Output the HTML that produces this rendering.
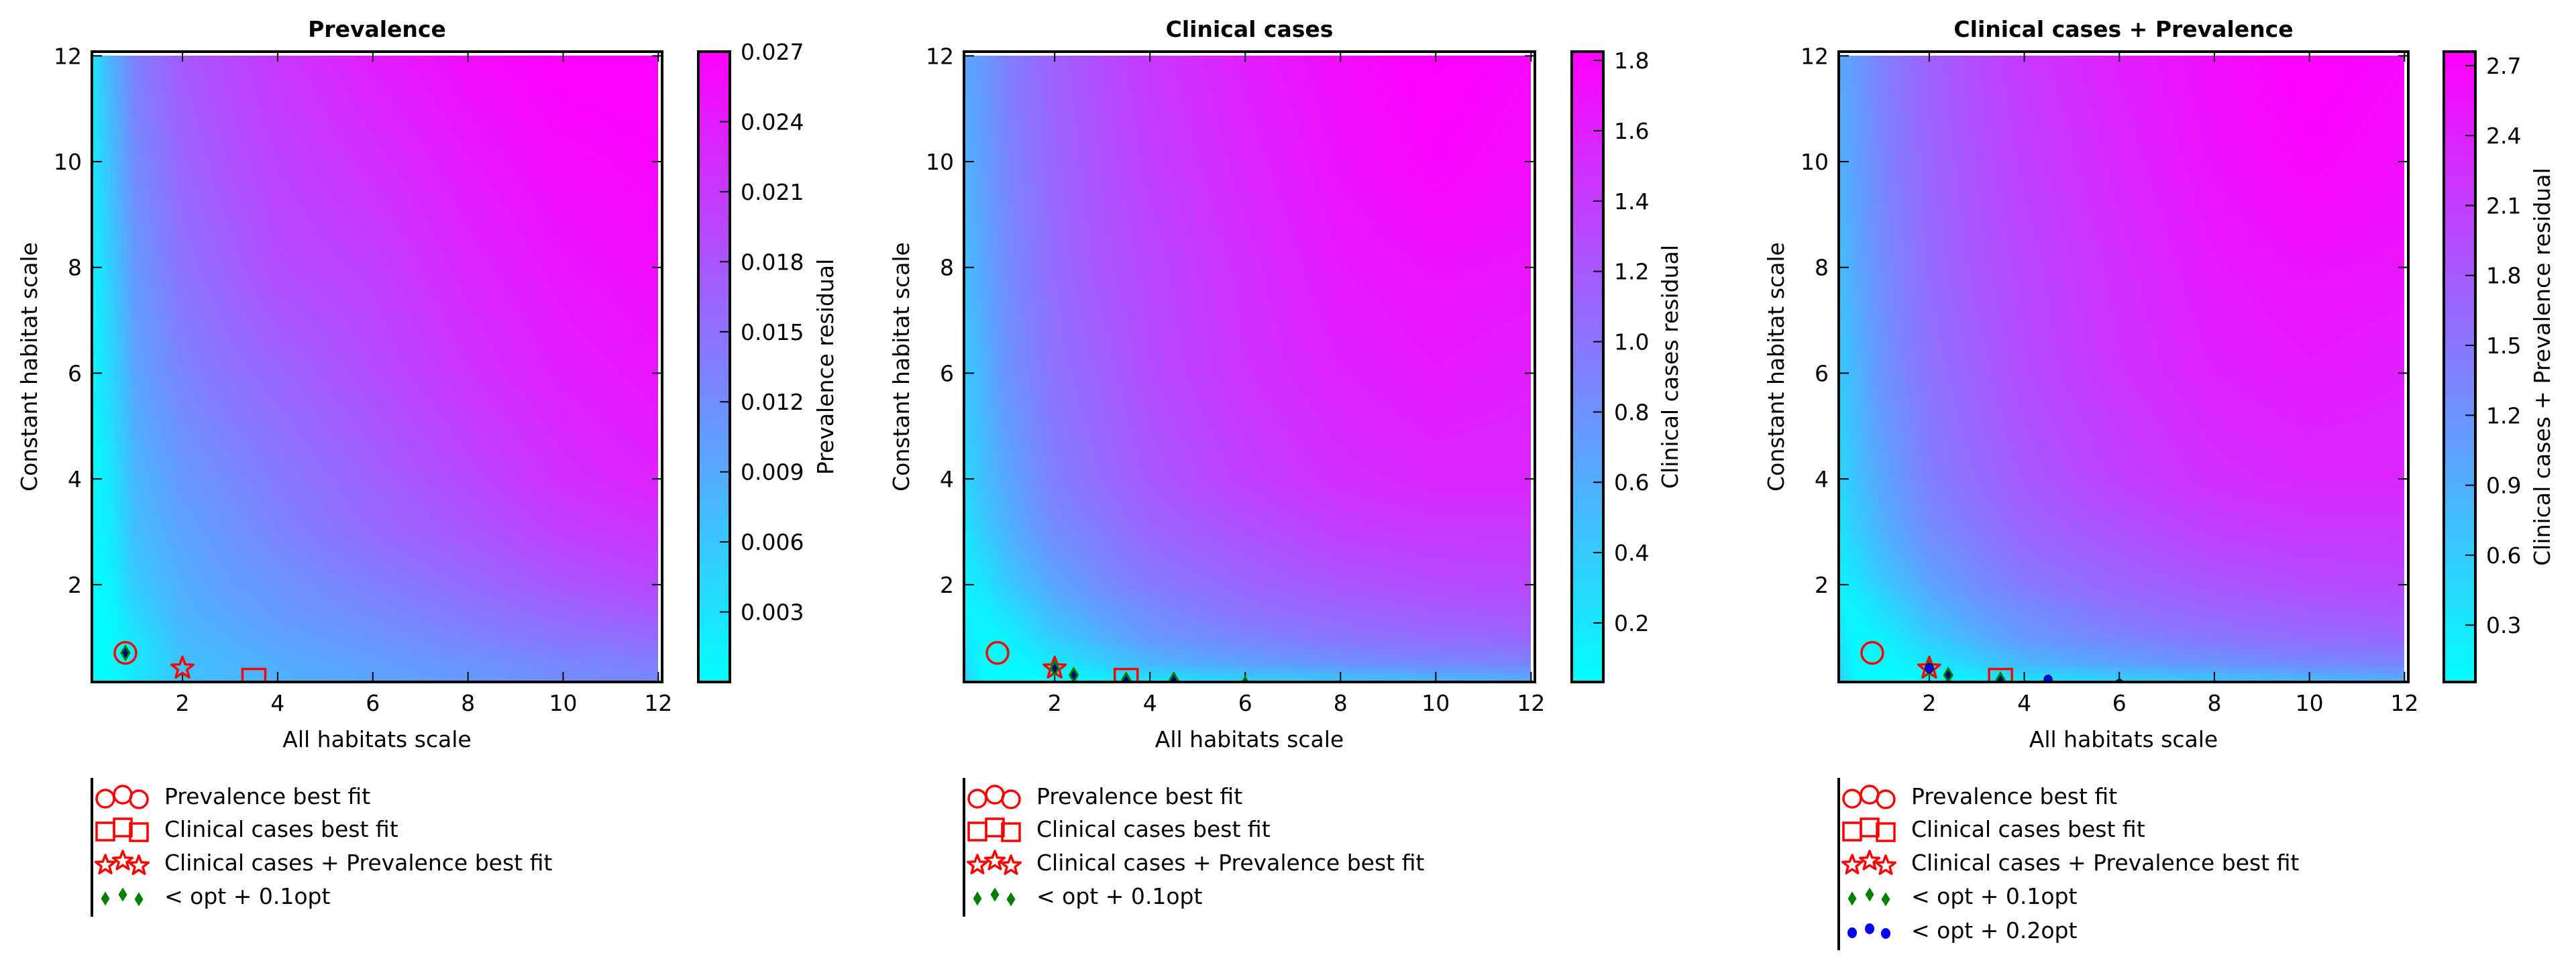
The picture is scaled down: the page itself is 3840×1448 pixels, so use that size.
<!DOCTYPE html>
<html><head><meta charset="utf-8">
<style>
html,body{margin:0;padding:0;background:#fff;}
#root{position:relative;width:3840px;height:1448px;overflow:hidden;font-family:"DejaVu Sans","Liberation Sans",sans-serif;}
canvas{position:absolute;}
svg{position:absolute;left:0;top:0;}
</style></head>
<body>
<div id="root">
<canvas id="c0"></canvas>
<canvas id="c1"></canvas>
<canvas id="c2"></canvas>
<svg id="svg" width="3840" height="1448" xmlns="http://www.w3.org/2000/svg"></svg>
</div>
<script>
// ---- data ----
const xGrid = [0.1, 0.5, 1, 2, 3, 4, 6, 8, 10, 12];
const yGrid = [0.15, 0.5, 1, 1.5, 2, 3, 4, 6, 8, 10, 12];
// rows follow yGrid (bottom -> top), columns follow xGrid
const prevValues = [
  [0.0000,0.0005,0.0027,0.0065,0.0076,0.0081,0.0095,0.0108,0.0119,0.0127],
  [0.0000,0.0003,0.0022,0.0065,0.0076,0.0086,0.0100,0.0113,0.0127,0.0135],
  [0.0000,0.0005,0.0027,0.0073,0.0086,0.0097,0.0113,0.0130,0.0146,0.0157],
  [0.0000,0.0008,0.0041,0.0081,0.0095,0.0108,0.0124,0.0143,0.0162,0.0178],
  [0.0000,0.0014,0.0054,0.0086,0.0103,0.0113,0.0135,0.0157,0.0178,0.0194],
  [0.0005,0.0022,0.0068,0.0097,0.0113,0.0130,0.0157,0.0178,0.0203,0.0216],
  [0.0005,0.0027,0.0076,0.0108,0.0124,0.0140,0.0167,0.0194,0.0221,0.0235],
  [0.0008,0.0041,0.0095,0.0130,0.0149,0.0162,0.0189,0.0216,0.0238,0.0248],
  [0.0014,0.0054,0.0108,0.0149,0.0167,0.0189,0.0203,0.0230,0.0248,0.0257],
  [0.0022,0.0068,0.0122,0.0162,0.0184,0.0200,0.0221,0.0243,0.0259,0.0265],
  [0.0027,0.0081,0.0135,0.0176,0.0194,0.0211,0.0238,0.0257,0.0270,0.0270]
];
const clinValues = [
  [0.39,0.07,0.03,0.03,0.09,0.18,0.30,0.39,0.48,0.57],
  [0.30,0.03,0.07,0.18,0.35,0.53,0.68,0.79,0.86,0.89],
  [0.21,0.07,0.12,0.39,0.57,0.75,0.89,1.00,1.07,1.11],
  [0.12,0.12,0.25,0.53,0.71,0.84,1.02,1.11,1.18,1.22],
  [0.12,0.21,0.39,0.66,0.84,0.96,1.11,1.22,1.29,1.32],
  [0.21,0.39,0.57,0.84,0.96,1.11,1.25,1.38,1.43,1.43],
  [0.30,0.48,0.66,0.93,1.07,1.20,1.38,1.50,1.56,1.56],
  [0.39,0.57,0.79,1.02,1.14,1.29,1.47,1.59,1.65,1.61],
  [0.48,0.66,0.84,1.07,1.22,1.32,1.50,1.65,1.70,1.68],
  [0.57,0.71,0.89,1.11,1.25,1.38,1.56,1.70,1.79,1.74],
  [0.66,0.75,0.93,1.14,1.29,1.43,1.61,1.74,1.83,1.77]
];
const combValues = [
  [0.60,0.11,0.06,0.06,0.14,0.27,0.46,0.60,0.73,0.87],
  [0.46,0.06,0.11,0.27,0.54,0.81,1.03,1.19,1.30,1.35],
  [0.33,0.11,0.19,0.60,0.87,1.14,1.35,1.51,1.62,1.68],
  [0.19,0.19,0.38,0.81,1.08,1.27,1.54,1.68,1.78,1.84],
  [0.19,0.33,0.60,1.00,1.27,1.46,1.68,1.84,1.95,2.00],
  [0.33,0.60,0.87,1.27,1.46,1.68,1.89,2.08,2.16,2.16],
  [0.46,0.73,1.00,1.41,1.62,1.81,2.08,2.27,2.35,2.35],
  [0.60,0.87,1.19,1.54,1.73,1.95,2.22,2.41,2.49,2.43],
  [0.73,1.00,1.27,1.62,1.84,2.00,2.27,2.49,2.57,2.54],
  [0.87,1.08,1.35,1.68,1.89,2.08,2.35,2.57,2.70,2.62],
  [1.00,1.14,1.41,1.73,1.95,2.16,2.43,2.62,2.76,2.68]
];
const prevTicks = [0.003,0.006,0.009,0.012,0.015,0.018,0.021,0.024,0.027];
const clinTicks = [0.2,0.4,0.6,0.8,1.0,1.2,1.4,1.6,1.8];
const combTicks = [0.3,0.6,0.9,1.2,1.5,1.8,2.1,2.4,2.7];
const prevRange = [0, 0.027];
const clinRange = [0.032, 1.825];
const combRange = [0.056, 2.76];
const xTicks = [2,4,6,8,10,12];
const yTicks = [2,4,6,8,10,12];
const prevalenceFit = [0.8, 0.71];
const clinicalFit = [3.5, 0.19];
const combinedFit = [2.0, 0.42];
const within10Prev = [[0.8,0.71]];
const within10Clin = [[2.0,0.42],[2.4,0.29],[3.5,0.2],[4.5,0.2],[6.0,0.12]];
const within10Comb = [[2.0,0.42],[2.4,0.29],[3.5,0.2]];
const within20Comb = [[2.0,0.42],[4.5,0.2],[6.0,0.12]];

// ---- layout ----
const NS = 'http://www.w3.org/2000/svg';
const svg = document.getElementById('svg');
const FS = 33;
const PT = 77, PB = 1017;
const XMIN = 0.096, XMAX = 12.08, YMIN = 0.16, YMAX = 12.08;
const panels = [
  {L:137, R:987, CB:1041, title:'Prevalence', cbLabel:'Prevalence residual', cbLabelX:1242, vals:prevValues, range:prevRange, ticks:prevTicks, dec:3, w10:within10Prev, w20:[], legendN:4, name:'prevalence'},
  {L:1437, R:2288, CB:2343, title:'Clinical cases', cbLabel:'Clinical cases residual', cbLabelX:2501, vals:clinValues, range:clinRange, ticks:clinTicks, dec:1, w10:within10Clin, w20:[], legendN:4, name:'clinical'},
  {L:2741, R:3590, CB:3643, title:'Clinical cases + Prevalence', cbLabel:'Clinical cases + Prevalence residual', cbLabelX:3801, vals:combValues, range:combRange, ticks:combTicks, dec:1, w10:within10Comb, w20:within20Comb, legendN:5, name:'combined'}
];
const CBW = 47;

function el(tag, attrs, parent){
  const e = document.createElementNS(NS, tag);
  for (const k in attrs) e.setAttribute(k, attrs[k]);
  (parent||svg).appendChild(e);
  return e;
}
function txt(s, attrs, parent){ const t = el('text', attrs, parent); t.textContent = s; return t; }

function interp(vals, x, y){
  let i = 0; while (i < xGrid.length-2 && x > xGrid[i+1]) i++;
  let j = 0; while (j < yGrid.length-2 && y > yGrid[j+1]) j++;
  let tx = (x - xGrid[i])/(xGrid[i+1]-xGrid[i]); tx = Math.max(0,Math.min(1,tx));
  let ty = (y - yGrid[j])/(yGrid[j+1]-yGrid[j]); ty = Math.max(0,Math.min(1,ty));
  const a = vals[j][i], b = vals[j][i+1], c = vals[j+1][i], d = vals[j+1][i+1];
  return (a*(1-tx)+b*tx)*(1-ty) + (c*(1-tx)+d*tx)*ty;
}

function starPath(cx, cy, R){
  const r = R*0.42; let d='';
  for (let k=0;k<10;k++){
    const ang = -Math.PI/2 + k*Math.PI/5;
    const rr = k%2===0 ? R : r;
    d += (k===0?'M':'L') + (cx+rr*Math.cos(ang)).toFixed(1) + ',' + (cy+rr*Math.sin(ang)).toFixed(1);
  }
  return d+'Z';
}
function diamondPath(cx, cy, w, h){
  return `M${cx},${cy-h/2}L${cx+w/2},${cy}L${cx},${cy+h/2}L${cx-w/2},${cy}Z`;
}

panels.forEach((p, idx) => {
  const sx = v => p.L + (v - XMIN)/(XMAX - XMIN)*(p.R - p.L);
  const sy = v => PB - (v - YMIN)/(YMAX - YMIN)*(PB - PT);
  const [vmin, vmax] = p.range;
  const cb = v => PB - (v - vmin)/(vmax - vmin)*(PB - PT);

  const cv = document.getElementById('c'+idx);
  const hx0 = Math.round(sx(0.1)), hx1 = Math.round(sx(12.0));
  const hy0 = Math.round(sy(12.0)), hy1 = PB;
  const W = hx1 - hx0, H = hy1 - hy0;
  cv.width = W; cv.height = H;
  cv.style.left = hx0+'px'; cv.style.top = hy0+'px';
  const ctx = cv.getContext('2d');
  const img = ctx.createImageData(W, H);
  for (let py=0; py<H; py++){
    const yv = YMIN + (PB - (hy0+py+0.5))/(PB-PT)*(YMAX-YMIN);
    for (let px=0; px<W; px++){
      const xv = XMIN + (hx0+px+0.5 - p.L)/(p.R-p.L)*(XMAX-XMIN);
      let t = (interp(p.vals, xv, yv) - vmin)/(vmax - vmin);
      t = Math.max(0, Math.min(1, t));
      const o = (py*W+px)*4;
      img.data[o] = Math.round(255*t); img.data[o+1] = Math.round(255*(1-t)); img.data[o+2] = 255; img.data[o+3] = 255;
    }
  }
  ctx.putImageData(img, 0, 0);

  const g = el('g', {});
  
  

  const cp = el('clipPath', {id:'clip'+idx}, g);
  el('rect', {x:p.L, y:PT, width:p.R-p.L, height:PB-PT}, cp);

  const t = txt(p.title, {x:(p.L+p.R)/2, y:55, 'text-anchor':'middle', 'font-size':FS, 'font-weight':'bold'}, g);
  
  

  xTicks.forEach(v => {
    const x = sx(v);
    el('line', {x1:x, y1:PB, x2:x, y2:PB-15, stroke:'#000', 'stroke-width':2}, g);
    el('line', {x1:x, y1:PT, x2:x, y2:PT+15, stroke:'#000', 'stroke-width':2}, g);
    const l = txt(String(v), {x:x, y:1060, 'text-anchor':'middle', 'font-size':FS}, g);
    
    
  });
  yTicks.forEach(v => {
    const y = sy(v);
    el('line', {x1:p.L, y1:y, x2:p.L+15, y2:y, stroke:'#000', 'stroke-width':2}, g);
    el('line', {x1:p.R, y1:y, x2:p.R-15, y2:y, stroke:'#000', 'stroke-width':2}, g);
    const l = txt(String(v), {x:p.L-15, y:y+12, 'text-anchor':'end', 'font-size':FS}, g);
    
    
  });

  const mg = el('g', {'clip-path':`url(#clip${idx})`}, g);
  
  
  const c1 = el('circle', {cx:sx(prevalenceFit[0]), cy:sy(prevalenceFit[1]), r:16, fill:'none', stroke:'#ff0000', 'stroke-width':3.5}, mg);
  
  
  const sq = el('rect', {x:sx(clinicalFit[0])-17, y:sy(clinicalFit[1])-17, width:34, height:34, fill:'none', stroke:'#ff0000', 'stroke-width':3.5}, mg);
  
  
  const st = el('path', {d:starPath(sx(combinedFit[0]), sy(combinedFit[1]), 17), fill:'none', stroke:'#ff0000', 'stroke-width':3.5, 'stroke-linejoin':'round'}, mg);
  
  
  p.w10.forEach(pt => {
    const d = el('path', {d:diamondPath(sx(pt[0]), sy(pt[1]), 12, 20), fill:'#000080', stroke:'#008000', 'stroke-width':3}, mg);
    
    
  });
  p.w20.forEach(pt => {
    const d = el('ellipse', {cx:sx(pt[0]), cy:sy(pt[1]), rx:6, ry:7, fill:'#0000ff', stroke:'#000040', 'stroke-width':1.5}, mg);
    
    
  });

  const fr = el('rect', {x:p.L, y:PT, width:p.R-p.L, height:PB-PT, fill:'none', stroke:'#000', 'stroke-width':4}, g);
  
  

  const xt = txt('All habitats scale', {x:(p.L+p.R)/2, y:1114, 'text-anchor':'middle', 'font-size':FS}, g);
  
  
  const yx = p.L - 82;
  const yt = txt('Constant habitat scale', {x:yx, y:547, 'text-anchor':'middle', 'font-size':FS, transform:`rotate(-90 ${yx} 547)`}, g);
  
  

  const gid = 'grad'+idx;
  const lg = el('linearGradient', {id:gid, x1:0, y1:1, x2:0, y2:0}, g);
  el('stop', {offset:0, 'stop-color':'#00ffff'}, lg);
  el('stop', {offset:1, 'stop-color':'#ff00ff'}, lg);
  const cbr = el('rect', {x:p.CB, y:PT, width:CBW, height:PB-PT, fill:`url(#${gid})`, stroke:'#000', 'stroke-width':4}, g);
  
  
  p.ticks.forEach(v => {
    const y = cb(v);
    el('line', {x1:p.CB+CBW, y1:y, x2:p.CB+CBW-15, y2:y, stroke:'#000', 'stroke-width':2}, g);
    const l = txt(v.toFixed(p.dec), {x:p.CB+CBW+16, y:y+12, 'font-size':FS}, g);
    
    
  });
  const cl = txt(p.cbLabel, {x:p.cbLabelX, y:547, 'text-anchor':'middle', 'font-size':FS, transform:`rotate(-90 ${p.cbLabelX} 547)`}, g);
  
  

  const lgG = el('g', {}, g);
  
  
  const rows = [1188, 1237, 1287, 1337, 1388];
  const bottom = p.legendN === 5 ? 1417 : 1367;
  el('line', {x1:p.L, y1:1160, x2:p.L, y2:bottom, stroke:'#000', 'stroke-width':4}, lgG);
  const mx = [p.L+20, p.L+46, p.L+70], dy = [3, -3, 4];
  const labels = ['Prevalence best fit', 'Clinical cases best fit', 'Clinical cases + Prevalence best fit', '< opt + 0.1opt', '< opt + 0.2opt'];
  for (let k=0; k<p.legendN; k++){
    const ry = rows[k];
    const ent = el('g', {}, lgG);
    
    
    for (let m=0; m<3; m++){
      const cx = mx[m], cy = ry + dy[m];
      if (k===0) el('circle', {cx:cx, cy:cy, r:13, fill:'none', stroke:'#ff0000', 'stroke-width':3.5}, ent);
      if (k===1) el('rect', {x:cx-13, y:cy-13, width:26, height:26, fill:'none', stroke:'#ff0000', 'stroke-width':3.5}, ent);
      if (k===2) el('path', {d:starPath(cx, cy, 15), fill:'none', stroke:'#ff0000', 'stroke-width':3.5, 'stroke-linejoin':'round'}, ent);
      if (k===3) el('path', {d:diamondPath(cx, cy, 13, 21), fill:'#008000'}, ent);
      if (k===4) el('ellipse', {cx:cx, cy:cy, rx:7, ry:8, fill:'#0000ff'}, ent);
    }
    txt(labels[k], {x:p.L+108, y:ry+11, 'font-size':FS}, ent);
  }
});
</script>
</body></html>
